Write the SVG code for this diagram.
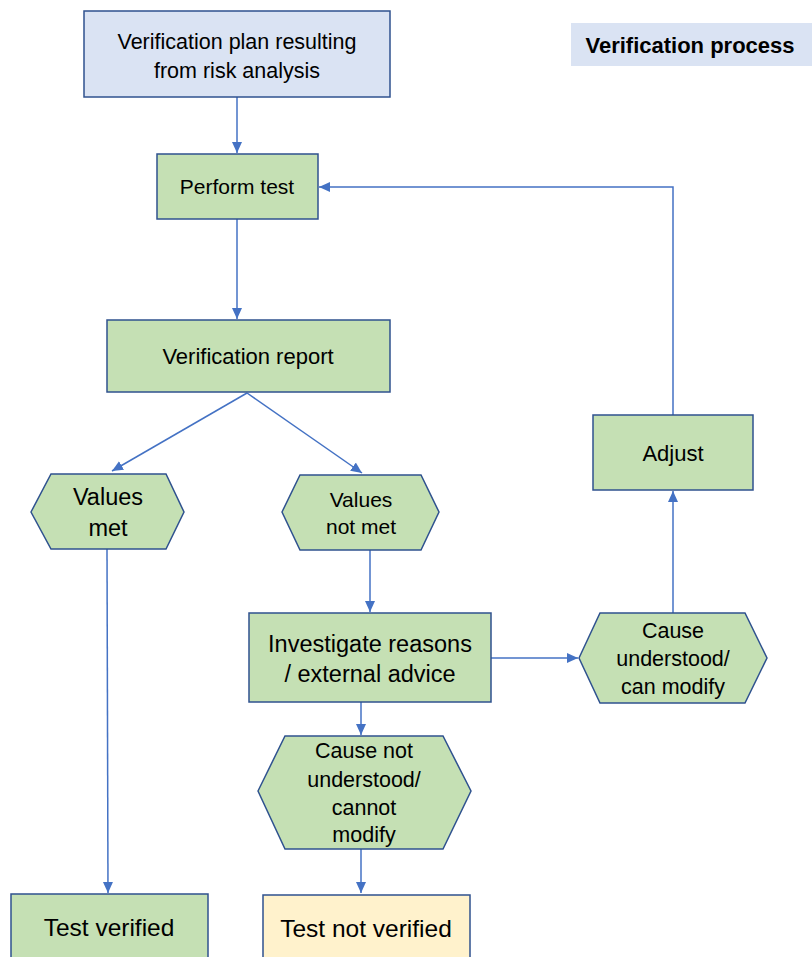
<svg xmlns="http://www.w3.org/2000/svg" width="812" height="957" viewBox="0 0 812 957">
  <style>
    .box { fill: #c5e0b4; stroke: #2f528f; stroke-width: 1.5; }
    .plan { fill: #dae3f3; stroke: #2f528f; stroke-width: 1.5; }
    .end-no { fill: #fff2cc; stroke: #2f528f; stroke-width: 1.5; }
    .lbl { font-family: "Liberation Sans", Arial, sans-serif; fill: #000; text-anchor: middle; }
    .conn { fill: none; stroke: #4472c4; stroke-width: 1.5; marker-end: url(#arrow); }
  </style>
  <defs>
    <marker id="arrow" markerUnits="userSpaceOnUse" markerWidth="12" markerHeight="12" viewBox="0 0 12 12" refX="11" refY="6" orient="auto">
      <path d="M0,1 L11,6 L0,11 Z" fill="#4472c4"/>
    </marker>
  </defs>

  <!-- title -->
  <g id="title">
    <rect x="571" y="23" width="241" height="43" fill="#dae3f3"/>
    <text x="690" y="53" class="lbl" font-size="22" font-weight="bold">Verification process</text>
  </g>

  <!-- connectors -->
  <g id="connectors">
    <line class="conn" x1="237" y1="97" x2="237" y2="153"/>
    <line class="conn" x1="237" y1="219" x2="237" y2="319"/>
    <line class="conn" x1="247" y1="393" x2="112" y2="471"/>
    <line class="conn" x1="247" y1="393" x2="362" y2="473"/>
    <line class="conn" x1="370" y1="550" x2="370" y2="612"/>
    <line class="conn" x1="491" y1="658" x2="578" y2="658"/>
    <line class="conn" x1="673" y1="613" x2="673" y2="491"/>
    <polyline class="conn" points="673,415 673,187 319,187"/>
    <line class="conn" x1="361" y1="702" x2="361" y2="735"/>
    <line class="conn" x1="361" y1="849" x2="361" y2="893"/>
    <line class="conn" x1="107" y1="549" x2="108" y2="893"/>
  </g>

  <g id="plan">
    <rect class="plan" x="84" y="11" width="306" height="86"/>
    <text class="lbl" font-size="21.5" x="237" y="49">Verification plan resulting</text>
    <text class="lbl" font-size="21.5" x="237" y="78">from risk analysis</text>
  </g>

  <g id="perform">
    <rect class="box" x="157" y="154" width="161" height="65"/>
    <text class="lbl" font-size="21" x="237" y="194">Perform test</text>
  </g>

  <g id="report">
    <rect class="box" x="107" y="320" width="283" height="72"/>
    <text class="lbl" font-size="22" x="248" y="364">Verification report</text>
  </g>

  <g id="values-met">
    <polygon class="box" points="31,512 51,474 166,474 184,512 166,549 51,549"/>
    <text class="lbl" font-size="23.5" x="108" y="505">Values</text>
    <text class="lbl" font-size="23.5" x="108" y="536">met</text>
  </g>

  <g id="values-not-met">
    <polygon class="box" points="282,512 300,475 421,475 439,512 421,550 300,550"/>
    <text class="lbl" font-size="21" x="361" y="507">Values</text>
    <text class="lbl" font-size="21" x="361" y="534">not met</text>
  </g>

  <g id="investigate">
    <rect class="box" x="249" y="613" width="242" height="89"/>
    <text class="lbl" font-size="23.5" x="370" y="652">Investigate reasons</text>
    <text class="lbl" font-size="23.5" x="370" y="682">/ external advice</text>
  </g>

  <g id="cause-understood">
    <polygon class="box" points="579,658 600,613 745,613 767,658 745,703 600,703"/>
    <text class="lbl" font-size="21.5" x="673" y="638">Cause</text>
    <text class="lbl" font-size="21.5" x="673" y="666">understood/</text>
    <text class="lbl" font-size="21.5" x="673" y="694">can modify</text>
  </g>

  <g id="adjust">
    <rect class="box" x="593" y="415" width="160" height="75"/>
    <text class="lbl" font-size="22" x="673" y="461">Adjust</text>
  </g>

  <g id="cause-not-understood">
    <polygon class="box" points="258,791 285,736 443,736 471,791 443,849 285,849"/>
    <text class="lbl" font-size="21.5" x="364" y="758">Cause not</text>
    <text class="lbl" font-size="21.5" x="364" y="787">understood/</text>
    <text class="lbl" font-size="21.5" x="364" y="815">cannot</text>
    <text class="lbl" font-size="21.5" x="364" y="842">modify</text>
  </g>

  <g id="test-verified">
    <rect class="box" x="11" y="894" width="197" height="70"/>
    <text class="lbl" font-size="24.5" x="109" y="936">Test verified</text>
  </g>

  <g id="test-not-verified">
    <rect class="end-no" x="263" y="895" width="207" height="70"/>
    <text class="lbl" font-size="24.5" x="366" y="937">Test not verified</text>
  </g>
</svg>
